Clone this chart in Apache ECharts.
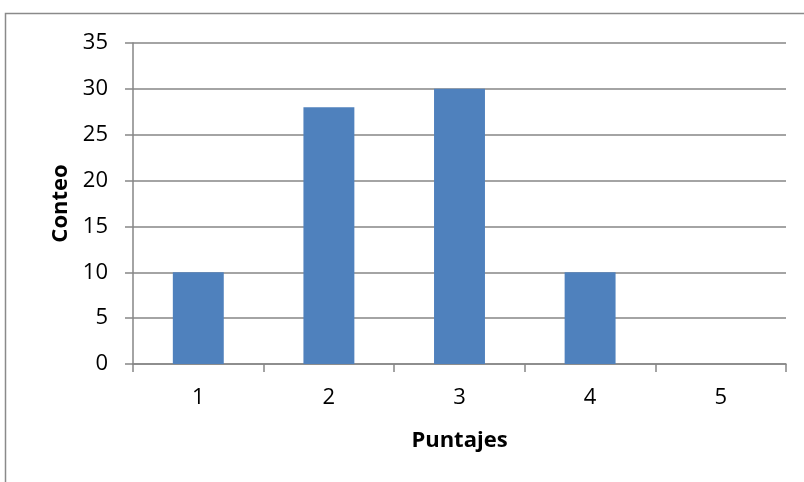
<!DOCTYPE html>
<html>
<head>
<meta charset="utf-8">
<script src="https://cdn.jsdelivr.net/npm/echarts@6/dist/echarts.min.js"></script>
<style>
html,body{margin:0;padding:0;background:#fff;}
#c{width:804px;height:482px;}
</style>
</head>
<body>
<div id="c"></div>
<script>
const categories = ['1', '2', '3', '4', '5'];
const conteo = [10, 28, 30, 10, 0];
const yTicks = [0, 5, 10, 15, 20, 25, 30, 35];
const xTitle = 'Puntajes';
const yTitle = 'Conteo';

const chart = echarts.init(document.getElementById('c'), null, {renderer: 'canvas'});
const fontFam = '"Open Sans", "Liberation Sans", sans-serif';
const gray = '#868686';
chart.setOption({
  animation: false,
  backgroundColor: '#fff',
  grid: {left: 133, right: 18, top: 43, bottom: 118, containLabel: false},
  graphic: [{
    type: 'polyline',
    shape: {points: [[5.5, 482], [5.5, 13.5], [804, 13.5]]},
    style: {stroke: '#8a8a8a', lineWidth: 1.5, fill: null},
    silent: true
  }],
  xAxis: {
    type: 'category',
    data: categories,
    name: xTitle,
    nameLocation: 'middle',
    nameGap: 66,
    nameTextStyle: {fontFamily: fontFam, fontSize: 22, fontWeight: 'bold', color: '#000'},
    axisLine: {lineStyle: {color: gray, width: 1.5}},
    axisTick: {show: true, length: 8, alignWithLabel: false, lineStyle: {color: gray, width: 1.5}},
    axisLabel: {fontFamily: fontFam, fontSize: 22, color: '#000', margin: 23},
    splitLine: {show: false}
  },
  yAxis: {
    type: 'value',
    min: yTicks[0],
    max: yTicks[yTicks.length - 1],
    interval: 5,
    name: yTitle,
    nameLocation: 'middle',
    nameGap: 61,
    nameRotate: 90,
    nameTextStyle: {fontFamily: fontFam, fontSize: 22, fontWeight: 'bold', color: '#000'},
    axisLine: {show: true, lineStyle: {color: gray, width: 1.5}},
    axisTick: {show: true, length: 8, lineStyle: {color: gray, width: 1.5}},
    axisLabel: {fontFamily: fontFam, fontSize: 22, color: '#000', margin: 25},
    splitLine: {show: true, lineStyle: {color: gray, width: 1.5}}
  },
  series: [{
    type: 'bar',
    data: conteo,
    barWidth: '39%',
    itemStyle: {color: '#4F81BD'}
  }]
});
</script>
</body>
</html>
